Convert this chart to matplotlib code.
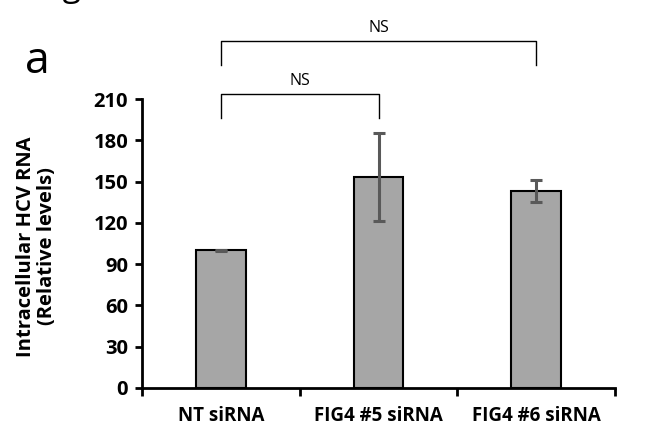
import matplotlib
matplotlib.use("Agg")
import matplotlib.pyplot as plt
import numpy as np

plt.rcParams['font.family'] = ['Open Sans', 'DejaVu Sans']

categories = ["NT siRNA", "FIG4 #5 siRNA", "FIG4 #6 siRNA"]
values = [100, 153, 143]
errors = [0.5, 32, 8]
y_ticks = [0, 30, 60, 90, 120, 150, 180, 210]

fig = plt.figure(figsize=(6.63, 4.42), dpi=100)
ax = fig.add_axes([0.2142, 0.1222, 0.7134, 0.6538])

x = np.arange(len(categories))
ax.bar(x, values, width=0.314, color="#A6A6A6", edgecolor="black",
       linewidth=1.5, zorder=2)
ax.errorbar(x, values, yerr=errors, fmt="none", ecolor="#595959",
            elinewidth=2.2, capsize=4.5, capthick=2.2, zorder=3)

ax.set_xlim(-0.5, 2.5)
ax.set_ylim(0, 210)
ax.set_yticks(y_ticks)
ax.set_yticklabels([str(t) for t in y_ticks], fontsize=14.5, fontweight="bold")
ax.set_xticks(x)
ax.set_xticklabels(categories, fontsize=13.5, fontweight="bold")
ax.tick_params(axis="x", which="major", length=0, pad=13)
ax.set_xticks([-0.5, 0.5, 1.5, 2.5], minor=True)
ax.tick_params(axis="x", which="minor", length=6, width=2, direction="out")
ax.tick_params(axis="y", length=5, width=2, direction="out", pad=5)

for side in ("top", "right"):
    ax.spines[side].set_visible(False)
for side in ("left", "bottom"):
    ax.spines[side].set_linewidth(2)

ax.set_ylabel("Intracellular HCV RNA\n(Relative levels)", fontsize=14.5,
              fontweight="bold", linespacing=1.05)
ax.yaxis.set_label_coords(-0.18, 0.49)

# significance brackets drawn in axes data coordinates (above the plot area)
def bracket(x0, x1, y_top, y_bot, label):
    ax.plot([x0, x0, x1, x1], [y_bot, y_top, y_top, y_bot], color="black",
            linewidth=1.0, clip_on=False, zorder=4)
    ax.text((x0 + x1) / 2, y_top + 4, label, ha="center", va="bottom",
            fontsize=11.5, clip_on=False)

px = 210 / 289.0  # data units per pixel
bracket(0.0, 1.0, 210 + (99 - 94) * px, 210 - (118 - 99) * px, "NS")
bracket(0.0, 2.0, 210 + (99 - 41) * px, 210 + (99 - 65) * px, "NS")

fig.text(25 / 663, 1 - 73 / 442, "a", fontsize=32, ha="left", va="baseline")
fig.text(38 / 663, 1 + 4 / 442, "Fig", fontsize=24, ha="left", va="baseline")

fig.savefig("out.png", dpi=100)
